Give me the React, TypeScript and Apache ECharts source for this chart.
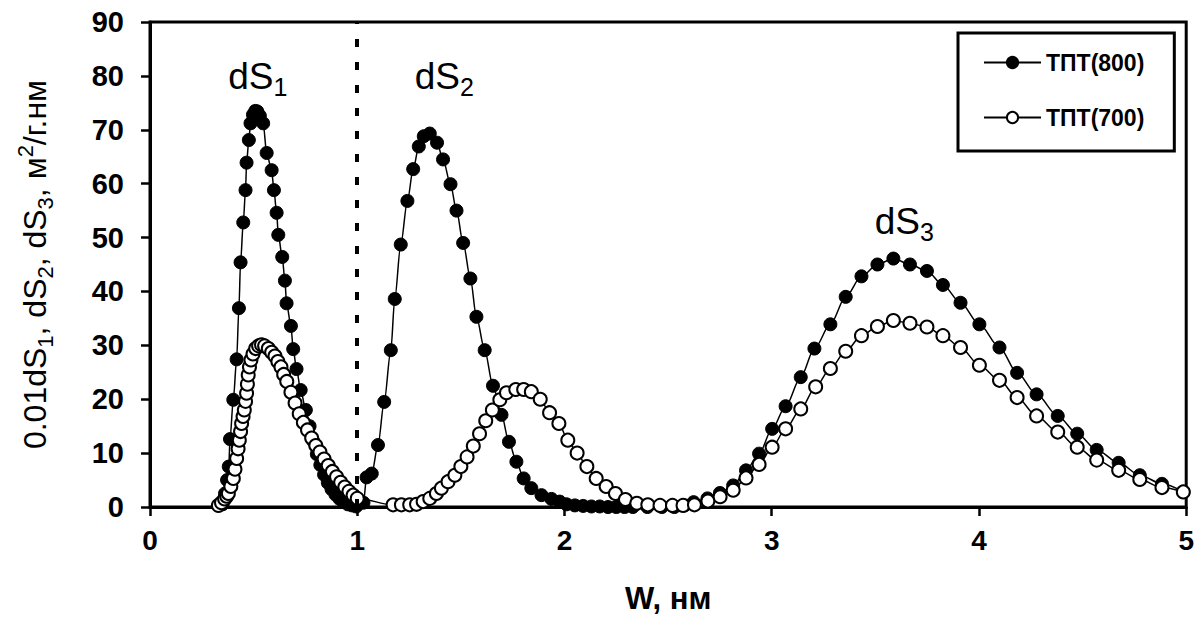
import React, { useEffect, useRef } from "react";
import * as echarts from "echarts";

// ---------- data ----------
const xTicks = [0, 1, 2, 3, 4, 5];
const yTicks = [0, 10, 20, 30, 40, 50, 60, 70, 80, 90];

const seriesNames = ["ТПТ(800)", "ТПТ(700)"];

// ТПТ(800) – filled circles: [W, value]
const tpt800: number[][] = [
  [0.35, 0.5], [0.362, 2.5], [0.372, 5.0], [0.38, 7.5], [0.386, 12.6], [0.402, 19.9],
  [0.418, 27.4], [0.429, 36.9], [0.437, 45.4], [0.45, 52.8], [0.461, 58.8], [0.466, 63.9],
  [0.477, 68.1], [0.485, 71.2], [0.497, 72.8], [0.508, 73.5], [0.518, 73.4], [0.53, 72.6],
  [0.546, 71.2], [0.563, 65.7], [0.587, 62.5], [0.598, 58.8], [0.611, 54.6], [0.619, 50.5],
  [0.638, 46.4], [0.651, 42.0], [0.659, 37.8], [0.68, 33.6], [0.691, 29.3], [0.707, 25.6],
  [0.727, 21.7], [0.752, 18.0], [0.77, 15.0], [0.788, 12.2], [0.805, 9.8], [0.822, 7.8],
  [0.84, 6.0], [0.858, 4.5], [0.876, 3.3], [0.895, 2.3], [0.915, 1.5], [0.935, 0.9],
  [0.955, 0.5], [0.975, 0.3], [0.995, 0.1],
  [1.03, 0.8], [1.045, 5.5], [1.07, 6.2], [1.1, 11.5], [1.13, 19.5], [1.162, 29.1],
  [1.181, 38.6], [1.21, 48.7], [1.242, 56.8], [1.27, 62.7], [1.297, 66.9], [1.321, 68.8],
  [1.35, 69.3], [1.385, 67.6], [1.414, 64.5], [1.45, 59.9], [1.479, 55.0], [1.511, 49.0],
  [1.546, 42.4], [1.575, 35.3], [1.615, 29.1], [1.655, 22.5], [1.696, 17.1], [1.732, 12.1],
  [1.768, 8.4], [1.803, 5.3], [1.84, 3.5], [1.889, 2.2], [1.937, 1.5], [1.977, 1.0],
  [2.01, 0.5], [2.05, 0.3], [2.09, 0.2], [2.13, 0.1], [2.17, 0.1], [2.21, 0], [2.25, 0],
  [2.29, 0], [2.33, 0], [2.4, 0], [2.47, 0], [2.53, 0], [2.58, 0.3],
  [2.623, 0.9], [2.69, 1.6], [2.75, 2.6], [2.814, 4.0], [2.876, 6.8], [2.939, 9.9],
  [3.002, 14.5], [3.067, 18.7], [3.14, 24.1], [3.206, 29.4], [3.283, 33.9], [3.357, 39.0],
  [3.433, 42.8], [3.51, 45.0], [3.587, 46.1], [3.667, 45.0], [3.749, 43.8], [3.826, 41.2],
  [3.911, 37.9], [4.002, 33.9], [4.099, 29.6], [4.184, 24.9], [4.278, 20.9], [4.38, 16.9],
  [4.474, 13.6], [4.568, 10.6], [4.674, 8.2], [4.776, 5.9], [4.883, 4.3], [4.986, 2.8],
];

// ТПТ(700) – open circles: [W, value]
const tpt700: number[][] = [
  [0.33, 0.3], [0.345, 0.8], [0.36, 1.5], [0.37, 2.0], [0.378, 2.5], [0.39, 3.8],
  [0.402, 5.3], [0.41, 7.0], [0.418, 9.0], [0.425, 10.8], [0.431, 12.4], [0.437, 14.0],
  [0.442, 15.5], [0.449, 16.8], [0.455, 18.0], [0.461, 19.6], [0.466, 21.1], [0.47, 22.8],
  [0.474, 24.5], [0.48, 26.0], [0.487, 27.3], [0.497, 28.4], [0.51, 29.4], [0.524, 29.9],
  [0.538, 30.1], [0.553, 29.9], [0.571, 29.4], [0.587, 28.7], [0.603, 28.0], [0.617, 27.0],
  [0.632, 26.0], [0.645, 24.6], [0.66, 23.3], [0.68, 21.3], [0.7, 19.3], [0.72, 17.3],
  [0.74, 15.7], [0.76, 14.3], [0.78, 12.8], [0.8, 11.4], [0.82, 10.2], [0.84, 8.9],
  [0.86, 7.7], [0.88, 6.6], [0.9, 5.6], [0.92, 4.6], [0.94, 3.7], [0.96, 2.9],
  [0.98, 2.2], [1.0, 1.6],
  [1.173, 0.4], [1.213, 0.4], [1.253, 0.4], [1.286, 0.5], [1.318, 1.0], [1.35, 1.6],
  [1.382, 2.5], [1.406, 3.5], [1.438, 4.7], [1.471, 5.9], [1.5, 7.5], [1.53, 9.3],
  [1.56, 11.3], [1.59, 13.6], [1.62, 16.0], [1.652, 18.0], [1.688, 19.9], [1.72, 21.2],
  [1.765, 21.8], [1.803, 21.8], [1.84, 21.4], [1.883, 20.0], [1.928, 17.5], [1.973, 15.5],
  [2.016, 12.4], [2.061, 10.0], [2.108, 7.5], [2.153, 5.3], [2.201, 3.8], [2.246, 2.5],
  [2.294, 1.4], [2.349, 0.7], [2.402, 0.4], [2.461, 0.3], [2.521, 0.3], [2.572, 0.3],
  [2.627, 0.4], [2.692, 1.1], [2.751, 1.9], [2.814, 3.1], [2.876, 5.4], [2.939, 7.9],
  [3.002, 11.1], [3.067, 14.5], [3.14, 18.2], [3.212, 22.3], [3.283, 25.7], [3.357, 28.9],
  [3.433, 31.8], [3.51, 33.5], [3.587, 34.6], [3.667, 34.1], [3.749, 33.4], [3.826, 31.8],
  [3.911, 29.6], [4.002, 26.3], [4.099, 23.5], [4.184, 20.3], [4.278, 16.9], [4.38, 13.9],
  [4.474, 11.1], [4.568, 8.7], [4.674, 6.8], [4.776, 5.1], [4.883, 3.6], [4.986, 2.8],
];

// peak annotations
const peakLabelX = [0.52, 1.42, 3.64];
const peakLabelY = [79.8, 79.8, 53.0];
const peakLabelSub = ["1", "2", "3"];

const dividerX = 1;

const FONT = "'Liberation Sans', Arial, sans-serif";

export default function App() {
  const ref = useRef<HTMLDivElement>(null);

  useEffect(() => {
    document.body.style.margin = "0";
    const chart = echarts.init(ref.current!, null, { renderer: "svg" });

    const rich = {
      n: { fontFamily: FONT, fontSize: 32, color: "#000", lineHeight: 42 },
      sub: { fontFamily: FONT, fontSize: 22, color: "#000", lineHeight: 22, verticalAlign: "bottom" },
      sup: { fontFamily: FONT, fontSize: 22, color: "#000", lineHeight: 22, verticalAlign: "top" },
    };
    const annRich = {
      n: { fontFamily: FONT, fontSize: 37, color: "#000", lineHeight: 46 },
      sub: { fontFamily: FONT, fontSize: 25, color: "#000", lineHeight: 25, verticalAlign: "bottom" },
    };

    const option: any = {
      animation: false,
      grid: {
        left: 150,
        right: 10,
        top: 22,
        bottom: 114,
        show: true,
        borderColor: "#000",
        borderWidth: 3,
      },
      legend: {
        data: seriesNames,
        orient: "vertical",
        left: 958,
        top: 33,
        padding: [18, 30, 22, 25],
        itemWidth: 57,
        itemHeight: 14,
        itemGap: 32,
        borderColor: "#000",
        borderWidth: 3,
        backgroundColor: "#fff",
        textStyle: { fontFamily: FONT, fontSize: 23, fontWeight: "bold", color: "#000" },
      },
      xAxis: {
        type: "value",
        min: xTicks[0],
        max: xTicks[xTicks.length - 1],
        interval: 1,
        name: "W, нм",
        nameLocation: "middle",
        nameGap: 76,
        nameTextStyle: { fontFamily: FONT, fontSize: 31, fontWeight: "bold", color: "#000" },
        axisLine: { lineStyle: { color: "#000", width: 3 } },
        axisTick: { show: true, length: 9, lineStyle: { color: "#000", width: 2.5 } },
        axisLabel: {
          fontFamily: FONT, fontSize: 28, fontWeight: "bold", color: "#000", margin: 19,
          showMinLabel: true, showMaxLabel: true,
        },
        splitLine: { show: false },
      },
      yAxis: {
        type: "value",
        min: yTicks[0],
        max: yTicks[yTicks.length - 1],
        interval: 10,
        name: "{n|0.01dS}{sub|1}{n|, dS}{sub|2}{n|, dS}{sub|3}{n|, м}{sup|2}{n|/г.нм}",
        nameLocation: "middle",
        nameGap: 94,
        nameRotate: 90,
        nameTextStyle: { fontFamily: FONT, fontSize: 32, color: "#000", rich },
        axisLine: { lineStyle: { color: "#000", width: 3 } },
        axisTick: { show: true, length: 9, lineStyle: { color: "#000", width: 2.5 } },
        axisLabel: { fontFamily: FONT, fontSize: 29, fontWeight: "bold", color: "#000", margin: 26 },
        splitLine: { show: false },
      },
      series: [
        {
          name: seriesNames[0],
          type: "line",
          data: tpt800,
          smooth: 0.3,
          smoothMonotone: "x",
          symbol: "circle",
          symbolSize: 13,
          itemStyle: { color: "#000", borderColor: "#000", borderWidth: 1 },
          lineStyle: { color: "#000", width: 1.5 },
          markLine: {
            silent: true,
            symbol: ["none", "none"],
            label: { show: false },
            lineStyle: { color: "#000", type: [8, 15], width: 4 },
            data: [{ xAxis: dividerX }],
          },
        },
        {
          name: seriesNames[1],
          type: "line",
          data: tpt700,
          smooth: 0.3,
          smoothMonotone: "x",
          symbol: "circle",
          symbolSize: 13,
          itemStyle: { color: "#fff", borderColor: "#000", borderWidth: 2 },
          lineStyle: { color: "#000", width: 1.5 },
        },
        {
          name: "annotations",
          type: "scatter",
          symbolSize: 0,
          silent: true,
          itemStyle: { opacity: 1, color: "#000" },
          data: peakLabelX.map((x, i) => [x, peakLabelY[i], peakLabelSub[i]]),
          label: {
            show: true,
            position: "inside",
            color: "#000",
            opacity: 1,
            textBorderWidth: 0,
            formatter: (p: any) => `{n|dS}{sub|${p.data[2]}}`,
            rich: annRich,
          },
        },
      ],
    };

    chart.setOption(option);
    return () => chart.dispose();
  }, []);

  return <div ref={ref} style={{ width: 1197, height: 621 }} />;
}
